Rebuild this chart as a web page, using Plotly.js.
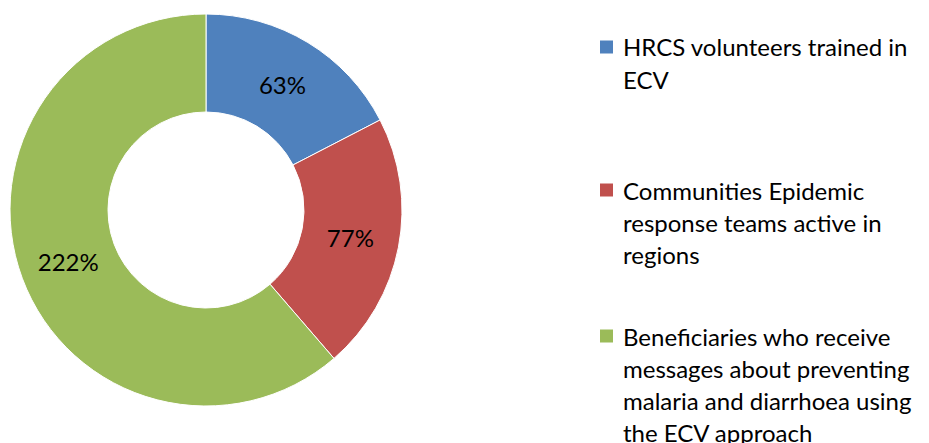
<!DOCTYPE html>
<html>
<head>
<meta charset="utf-8">
<script src="https://cdn.plot.ly/plotly-3.0.1.min.js"></script>
<style>html,body{margin:0;padding:0;background:#fff;}#chart{width:929px;height:443px;}</style>
</head>
<body>
<div id="chart"></div>
<script>
const labels = [
  "HRCS volunteers trained in<br>ECV",
  "Communities Epidemic<br>response teams active in<br>regions",
  "Beneficiaries who receive<br>messages about preventing<br>malaria and diarrhoea using<br>the ECV approach"
];
const values = [63, 77, 222];
const colors = ["#4F81BD", "#C0504D", "#9BBB59"];

const FONT = "Lato, 'Open Sans', sans-serif";
const W = 929, H = 443;

const trace = {
  type: "pie",
  labels: labels,
  values: values,
  hole: 0.5,
  sort: false,
  direction: "clockwise",
  rotation: 0,
  marker: {colors: colors, line: {color: "#ffffff", width: 1}},
  texttemplate: "%{value}%",
  textposition: "inside",
  insidetextorientation: "horizontal",
  insidetextfont: {family: FONT, size: 24, color: "#000000"},
  showlegend: false,
  domain: {x: [0, 412 / W], y: [37 / H, 429 / H]},
  hoverinfo: "label+value"
};

// Custom legend laid out as in the reference
const itemTops = [47, 190, 336];
const lineGap = 32;
const annotations = [];
const shapes = [];
labels.forEach((lab, i) => {
  const lines = lab.split("<br>");
  lines.forEach((ln, j) => {
    const yc = itemTops[i] + j * lineGap;
    annotations.push({
      xref: "paper", yref: "paper",
      x: 621 / W, y: 1 - yc / H,
      xanchor: "left", yanchor: "middle",
      text: ln, showarrow: false,
      font: {family: FONT, size: 24, color: "#000000"}
    });
  });
  const yc = itemTops[i];
  shapes.push({
    type: "rect", xref: "paper", yref: "paper",
    x0: 600 / W, x1: 613 / W,
    y0: 1 - (yc + 6.5) / H, y1: 1 - (yc - 6.5) / H,
    fillcolor: colors[i], line: {width: 0}
  });
});

const layout = {
  width: W, height: H,
  margin: {l: 0, r: 0, t: 0, b: 0},
  paper_bgcolor: "#ffffff",
  plot_bgcolor: "#ffffff",
  font: {family: FONT},
  annotations: annotations,
  shapes: shapes,
  showlegend: false
};

Plotly.newPlot("chart", [trace], layout, {displayModeBar: false, staticPlot: true});
</script>
</body>
</html>
